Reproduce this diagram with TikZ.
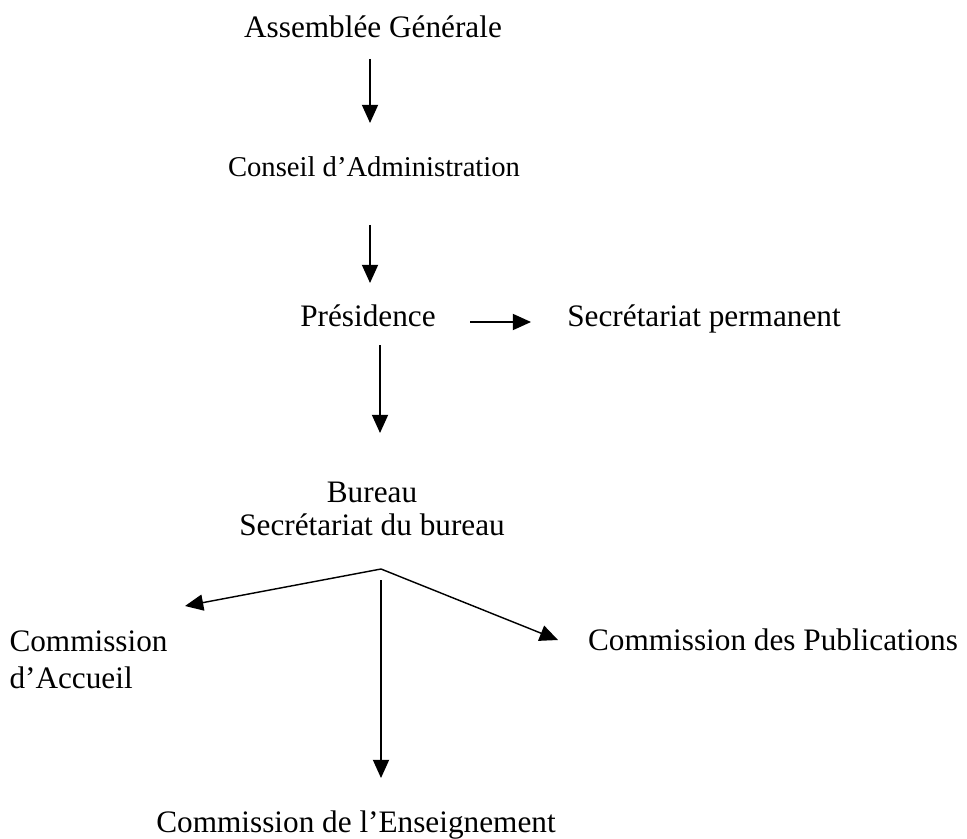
\documentclass[tikz,border=0pt]{standalone}
\usepackage{fontspec}
\setmainfont{Liberation Serif}
\usetikzlibrary{arrows.meta}
\begin{document}
\begin{tikzpicture}[x=0.384pt,y=-0.384pt,
  arr/.style={-{Triangle[length=7pt,width=6.2pt]}, line width=0.55pt},
  lbl/.style={font=\fontsize{12}{13.8}\selectfont, inner sep=0pt, anchor=base},
  lbls/.style={font=\fontsize{11}{13}\selectfont, inner sep=0pt, anchor=base}]
\useasboundingbox (0,0) rectangle (967,838);
% nodes
\node[lbl] (ag) at (373,38) {Assemblée Générale};
\node[lbls] (ca) at (374,177) {Conseil d’Administration};
\node[lbl] (pr) at (368,326) {Présidence};
\node[lbl] (sp) at (704,326) {Secrétariat permanent};
\node[lbl] (bu) at (372,502) {Bureau};
\node[lbl] (sb) at (372,535) {Secrétariat du bureau};
\node[lbl,anchor=base west] (cac) at (9,651) {Commission};
\node[lbl,anchor=base west] (cac2) at (9,688) {d’Accueil};
\node[lbl] (cpu) at (773,650) {Commission des Publications};
\node[lbl] (cen) at (356,832) {Commission de l’Enseignement};
% connector end points
\coordinate (a1s) at (370,59);  \coordinate (a1e) at (370,123);
\coordinate (a2s) at (370,225); \coordinate (a2e) at (370,283);
\coordinate (a3s) at (380,345); \coordinate (a3e) at (380,433);
\coordinate (h1s) at (470,322); \coordinate (h1e) at (531,322);
\coordinate (apex) at (381,569);
\coordinate (lt) at (185,606);
\coordinate (rt) at (558,640);
\coordinate (vs) at (381,580);  \coordinate (ve) at (381,778);
% connectors
\draw[arr] (a1s) -- (a1e);
\draw[arr] (a2s) -- (a2e);
\draw[arr] (a3s) -- (a3e);
\draw[arr] (h1s) -- (h1e);
\draw[arr] (apex) -- (lt);
\draw[arr] (apex) -- (rt);
\draw[arr] (vs) -- (ve);
\end{tikzpicture}
\end{document}
